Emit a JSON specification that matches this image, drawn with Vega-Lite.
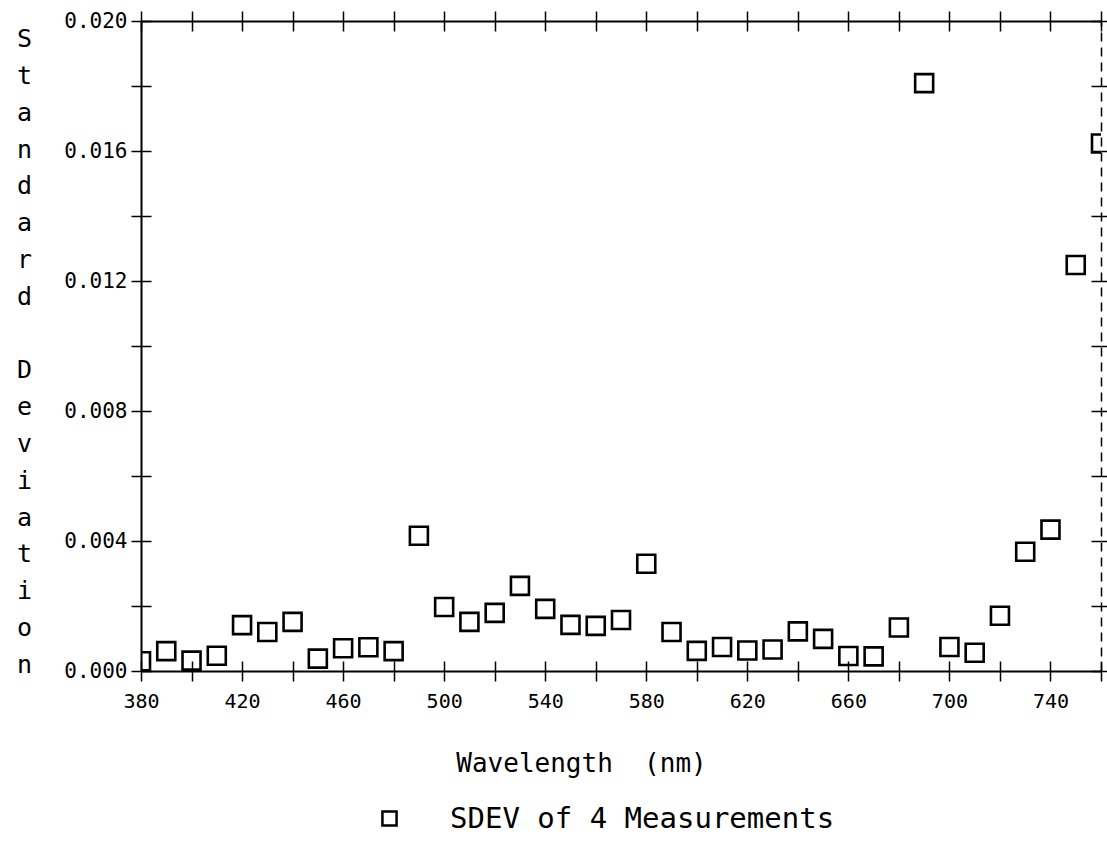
{
  "$schema": "https://vega.github.io/schema/vega-lite/v6.json",
  "width": 960,
  "height": 650,
  "autosize": "none",
  "padding": {"left": 141, "top": 21, "right": 6, "bottom": 176},
  "background": "white",
  "config": {
    "view": {"stroke": null},
    "font": "DejaVu Sans Mono",
    "axis": {
      "domainColor": "black",
      "tickColor": "black",
      "labelColor": "black",
      "titleColor": "black",
      "labelFont": "DejaVu Sans Mono",
      "titleFont": "DejaVu Sans Mono",
      "titleFontWeight": "normal",
      "labelFlush": false,
      "labelOverlap": false
    },
    "legend": {"labelFont": "DejaVu Sans Mono", "labelColor": "black"}
  },
  "data": {
    "values": [
      {"wavelength": 380, "sdev": 0.00030},
      {"wavelength": 390, "sdev": 0.00061},
      {"wavelength": 400, "sdev": 0.00032},
      {"wavelength": 410, "sdev": 0.00047},
      {"wavelength": 420, "sdev": 0.00141},
      {"wavelength": 430, "sdev": 0.00120},
      {"wavelength": 440, "sdev": 0.00151},
      {"wavelength": 450, "sdev": 0.00038},
      {"wavelength": 460, "sdev": 0.00070},
      {"wavelength": 470, "sdev": 0.00073},
      {"wavelength": 480, "sdev": 0.00061},
      {"wavelength": 490, "sdev": 0.00416},
      {"wavelength": 500, "sdev": 0.00197},
      {"wavelength": 510, "sdev": 0.00151},
      {"wavelength": 520, "sdev": 0.00179},
      {"wavelength": 530, "sdev": 0.00262},
      {"wavelength": 540, "sdev": 0.00191},
      {"wavelength": 550, "sdev": 0.00142},
      {"wavelength": 560, "sdev": 0.00139},
      {"wavelength": 570, "sdev": 0.00157},
      {"wavelength": 580, "sdev": 0.00330},
      {"wavelength": 590, "sdev": 0.00120},
      {"wavelength": 600, "sdev": 0.00062},
      {"wavelength": 610, "sdev": 0.00074},
      {"wavelength": 620, "sdev": 0.00063},
      {"wavelength": 630, "sdev": 0.00066},
      {"wavelength": 640, "sdev": 0.00122},
      {"wavelength": 650, "sdev": 0.00099},
      {"wavelength": 660, "sdev": 0.00046},
      {"wavelength": 670, "sdev": 0.00045},
      {"wavelength": 680, "sdev": 0.00134},
      {"wavelength": 690, "sdev": 0.01809},
      {"wavelength": 700, "sdev": 0.00074},
      {"wavelength": 710, "sdev": 0.00056},
      {"wavelength": 720, "sdev": 0.00170},
      {"wavelength": 730, "sdev": 0.00367},
      {"wavelength": 740, "sdev": 0.00435},
      {"wavelength": 750, "sdev": 0.01249},
      {"wavelength": 760, "sdev": 0.01623}
    ]
  },
  "layer": [
    {
      "mark": {"type": "point", "shape": "square", "filled": false, "size": 324, "strokeWidth": 2.6, "opacity": 1, "clip": true},
      "encoding": {
        "x": {
          "field": "wavelength", "type": "quantitative",
          "scale": {"domain": [380, 760], "nice": false, "zero": false},
          "axis": {
            "orient": "bottom",
            "values": [380, 400, 420, 440, 460, 480, 500, 520, 540, 560, 580, 600, 620, 640, 660, 680, 700, 720, 740, 760],
            "format": "d",
            "labelExpr": "(datum.value - 380) % 40 == 0 ? datum.label : ''",
            "tickSize": 10, "tickWidth": 1.5, "domainWidth": 2,
            "grid": true, "gridDash": [10, 630, 10], "gridColor": "black", "gridWidth": 1.5, "gridOpacity": 1,
            "labelFontSize": 20, "labelPadding": 10, "labelBaseline": "top",
            "title": "Wavelength\u00a0\u00a0(nm)", "titleFontSize": 26,
            "titleX": 440, "titleY": 92, "titleAlign": "center", "titleBaseline": "middle", "titleAnchor": null
          }
        },
        "y": {
          "field": "sdev", "type": "quantitative",
          "scale": {"domain": [0, 0.02], "nice": false, "zero": true},
          "axis": {
            "orient": "left",
            "values": [0, 0.002, 0.004, 0.006, 0.008, 0.010, 0.012, 0.014, 0.016, 0.018, 0.020],
            "format": ".3f",
            "labelExpr": "round(datum.value * 1000) % 4 == 0 ? datum.label : ''",
            "tickSize": 10, "tickWidth": 1.5, "domainWidth": 2,
            "grid": true, "gridDash": [10, 940, 10], "gridColor": "black", "gridWidth": 1.5, "gridOpacity": 1,
            "labelFontSize": 21, "labelPadding": 4,
            "title": ["S", "t", "a", "n", "d", "a", "r", "d"],
            "titleFontSize": 25, "titleAngle": 0, "titleLineHeight": 36.8,
            "titleX": -117, "titleY": 25.7, "titleAlign": "center", "titleBaseline": "alphabetic", "titleAnchor": null
          }
        },
        "color": {
          "datum": "SDEV of 4 Measurements",
          "type": "nominal",
          "scale": {"range": ["black"]},
          "legend": {
            "orient": "none", "legendX": 234, "legendY": 783,
            "title": null, "padding": 0,
            "symbolType": "square", "symbolSize": 200, "symbolStrokeWidth": 2.5,
            "labelFontSize": 29, "labelOffset": 46, "labelLimit": 0
          }
        }
      }
    },
    {
      "mark": {"type": "point", "opacity": 0},
      "encoding": {
        "x": {
          "field": "wavelength", "type": "quantitative",
          "scale": {"domain": [380, 760], "nice": false, "zero": false},
          "axis": {
            "orient": "top",
            "values": [380, 400, 420, 440, 460, 480, 500, 520, 540, 560, 580, 600, 620, 640, 660, 680, 700, 720, 740, 760],
            "labels": false, "tickSize": 10, "tickWidth": 1.5, "domainWidth": 2, "grid": false, "title": null
          }
        },
        "y": {
          "field": "sdev", "type": "quantitative",
          "scale": {"domain": [0, 0.02], "nice": false, "zero": true},
          "axis": {
            "orient": "right",
            "values": [0, 0.002, 0.004, 0.006, 0.008, 0.010, 0.012, 0.014, 0.016, 0.018, 0.020],
            "labels": false, "tickSize": 10, "tickWidth": 1.5, "domainWidth": 1.5, "domainDash": [9, 6], "grid": false,
            "title": ["D", "e", "v", "i", "a", "t", "i", "o", "n"],
            "titleFontSize": 25, "titleAngle": 0, "titleLineHeight": 36.8,
            "titleX": -1077, "titleY": 356.9, "titleAlign": "center", "titleBaseline": "alphabetic", "titleAnchor": null
          }
        }
      }
    }
  ],
  "resolve": {"scale": {"x": "independent", "y": "independent"}}
}
